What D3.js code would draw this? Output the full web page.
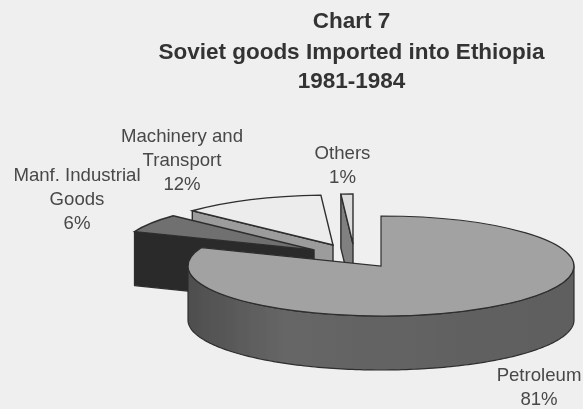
<!DOCTYPE html>
<html>
<head>
<meta charset="utf-8">
<script src="https://cdnjs.cloudflare.com/ajax/libs/d3/7.8.5/d3.min.js"></script>
<style>
  html, body { margin: 0; padding: 0; background: #efefef; }
  text { font-family: "Liberation Sans", Arial, sans-serif; }
</style>
</head>
<body>
<div id="chart"></div>
<script>
// data
var categories = ["Petroleum", "Manf. Industrial Goods", "Machinery and Transport", "Others"];
var shares = [81, 6, 12, 1];
var titleLines = ["Chart 7", "Soviet goods Imported into Ethiopia", "1981-1984"];
var labelLines = [["Petroleum", "81%"], ["Manf. Industrial", "Goods", "6%"], ["Machinery and", "Transport", "12%"], ["Others", "1%"]];

// layout
var width = 583, height = 409;
var rx = 193, ry = 50, depth = 54;
var centers = [[381, 266], [314, 250], [333, 245], [353, 244]];
var labelPos = [[539, 381], [77, 181], [182, 142], [342.5, 159]];
var topFill = ["#a2a2a2", "#6f6f6f", "#ececec", "#dcdcdc"];
var sideFill = ["url(#wall)", "#2b2b2b", "#9c9c9c", "#808080"];
var drawOrder = [2, 3, 1, 0];

var svg = d3.select("#chart").append("svg")
    .attr("width", width)
    .attr("height", height)
    .style("display", "block");

var grad = svg.append("defs").append("linearGradient")
    .attr("id", "wall");
grad.append("stop").attr("offset", "0%").attr("stop-color", "#4e4e4e");
grad.append("stop").attr("offset", "25%").attr("stop-color", "#666666");
grad.append("stop").attr("offset", "100%").attr("stop-color", "#5e5e5e");

var soft = svg.select("defs").append("filter").attr("id", "soft");
soft.append("feGaussianBlur").attr("stdDeviation", 0.5);

svg.append("rect")
    .attr("width", width)
    .attr("height", height)
    .attr("fill", "#efefef");

// clockwise from 12 o'clock, same order as the original
var pie = d3.pie().sort(null).value(function(d) { return d; });
var slices = pie(shares);

var arc = d3.arc().innerRadius(0).outerRadius(rx);
var line = d3.line();

function pt(c, a, dy) {
  return [c[0] + rx * Math.sin(a), c[1] - ry * Math.cos(a) + (dy || 0)];
}

var g = svg.append("g").attr("filter", "url(#soft)");
var edge = "#2e2e2e";

drawOrder.forEach(function(i) {
  var s = slices[i], c = centers[i];
  var slice = g.append("g");

  if (i === 0) {
    // outer wall, front half only
    var front = d3.range(Math.PI / 2, 3 * Math.PI / 2 + 0.001, 0.02);
    var lower = front.map(function(a) { return pt(c, a, depth); });
    var pts = front.map(function(a) { return pt(c, a); }).concat(lower.reverse());
    slice.append("path")
        .attr("d", line(pts) + "Z")
        .attr("fill", sideFill[i])
        .attr("stroke", edge)
        .attr("stroke-width", 1.2);
  } else {
    // the cut face on the left of each pulled out slice
    var a = s.startAngle;
    var face = [pt(c, a), c, [c[0], c[1] + depth], pt(c, a, depth)];
    slice.append("path")
        .attr("d", line(face) + "Z")
        .attr("fill", sideFill[i])
        .attr("stroke", edge)
        .attr("stroke-width", 1.4)
        .attr("stroke-linejoin", "round");
  }

  slice.append("path")
      .attr("d", arc(s))
      .attr("transform", "translate(" + c[0] + "," + c[1] + ") scale(1," + (ry / rx) + ")")
      .attr("fill", topFill[i])
      .attr("stroke", edge)
      .attr("stroke-width", i === 0 ? 1.2 : 1.4)
      .attr("vector-effect", "non-scaling-stroke");
});

// title
var titleY = [28, 59, 88];
svg.append("g").selectAll("text")
    .data(titleLines)
  .enter().append("text")
    .attr("x", 351.5)
    .attr("y", function(d, i) { return titleY[i]; })
    .attr("text-anchor", "middle")
    .attr("font-size", 22.5)
    .attr("font-weight", "bold")
    .attr("fill", "#333333")
    .text(function(d) { return d; });

// slice labels
labelLines.forEach(function(lines, i) {
  svg.append("g").selectAll("text")
      .data(lines)
    .enter().append("text")
      .attr("x", labelPos[i][0])
      .attr("y", function(d, j) { return labelPos[i][1] + j * 24; })
      .attr("text-anchor", "middle")
      .attr("font-size", 18.6)
      .attr("fill", "#484848")
      .text(function(d) { return d; });
});
</script>
</body>
</html>
